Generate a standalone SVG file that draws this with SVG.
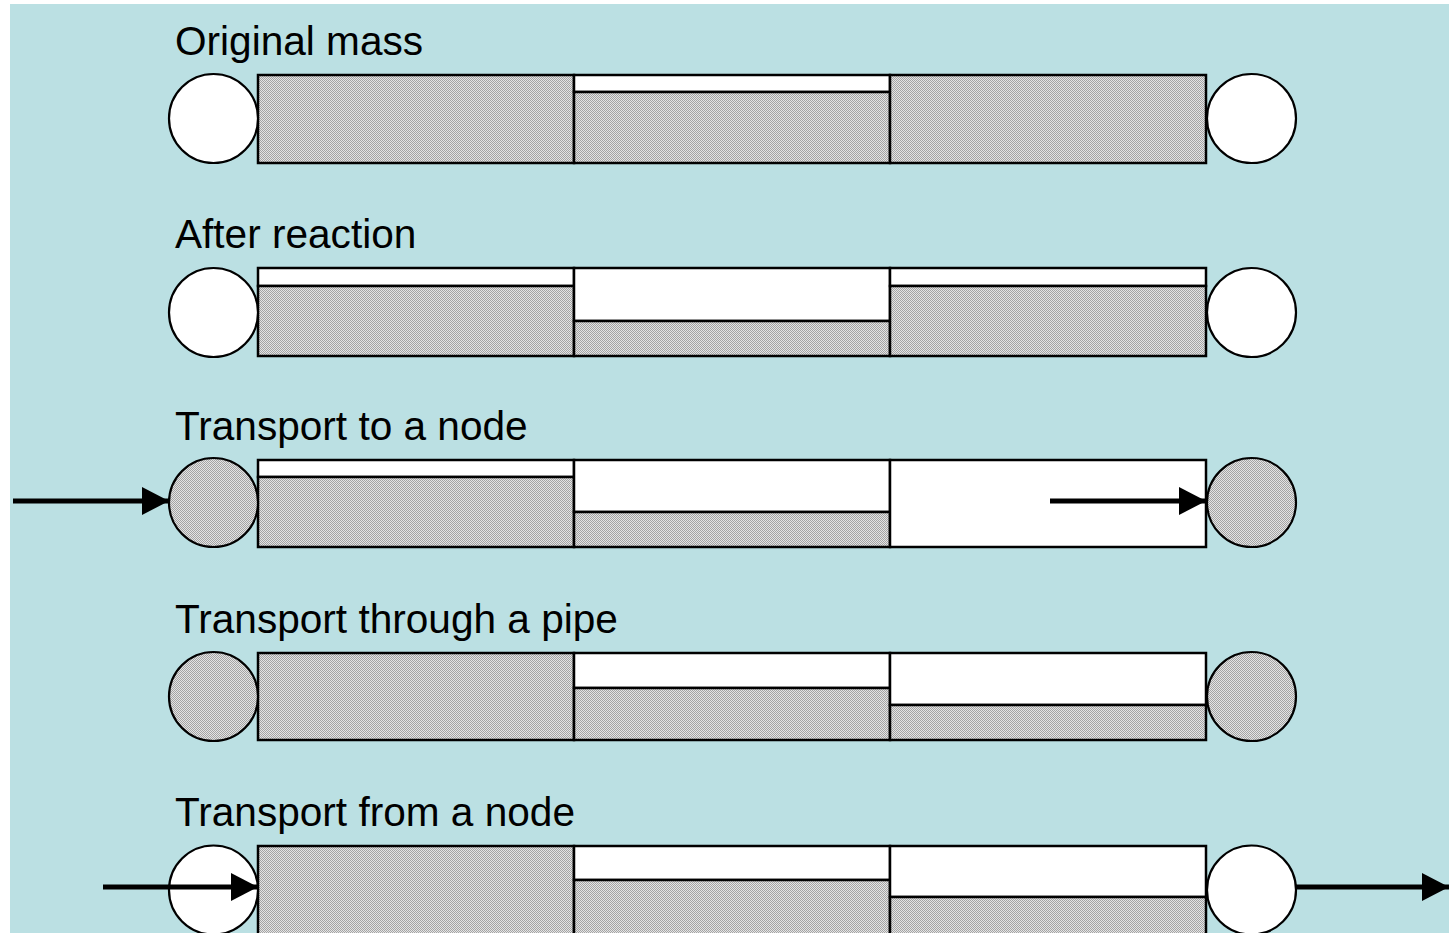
<svg xmlns="http://www.w3.org/2000/svg" width="1449" height="933" viewBox="0 0 1449 933">
<style>
.lbl{font-family:"Liberation Sans",Arial,sans-serif;font-size:40.6px;fill:#000}
.g{fill:url(#dots);stroke:#000;stroke-width:2.5}
.w{fill:#fff;stroke:#000;stroke-width:2.5}
.cw{fill:#fff;stroke:#000;stroke-width:2.2}
.cg{fill:url(#dots);stroke:#000;stroke-width:2.2}
.arr{stroke:#000;stroke-width:5;fill:none;marker-end:url(#ah)}
</style>
<defs>
<pattern id="dots" width="2" height="2" patternUnits="userSpaceOnUse">
<rect width="2" height="2" fill="#e4e4e4"/>
<rect width="1" height="1" fill="#a4a4a4"/>
<rect x="1" y="1" width="1" height="1" fill="#a4a4a4"/>
</pattern>
<marker id="ah" markerUnits="userSpaceOnUse" markerWidth="28" markerHeight="30" refX="27" refY="14" orient="auto">
<path d="M0,0 L27,14 L0,28 Z" fill="#000"/>
</marker>
</defs>
<rect x="10" y="4" width="1439" height="929" fill="#BBE0E3"/>

<g id="row1">
<text class="lbl" x="175" y="55">Original mass</text>
<rect class="g" x="258" y="75" width="316" height="88"/>
<rect class="w" x="574" y="75" width="316" height="17"/>
<rect class="g" x="574" y="92" width="316" height="71"/>
<rect class="g" x="890" y="75" width="316" height="88"/>
<circle class="cw" cx="213.5" cy="118.5" r="44.5"/>
<circle class="cw" cx="1251.5" cy="118.5" r="44.5"/>
</g>

<g id="row2">
<text class="lbl" x="175" y="248">After reaction</text>
<rect class="w" x="258" y="268" width="316" height="18"/>
<rect class="g" x="258" y="286" width="316" height="70"/>
<rect class="w" x="574" y="268" width="316" height="53"/>
<rect class="g" x="574" y="321" width="316" height="35"/>
<rect class="w" x="890" y="268" width="316" height="18"/>
<rect class="g" x="890" y="286" width="316" height="70"/>
<circle class="cw" cx="213.5" cy="312.5" r="44.5"/>
<circle class="cw" cx="1251.5" cy="312.5" r="44.5"/>
</g>

<g id="row3">
<text class="lbl" x="175" y="440">Transport to a node</text>
<rect class="w" x="258" y="460" width="316" height="17"/>
<rect class="g" x="258" y="477" width="316" height="70"/>
<rect class="w" x="574" y="460" width="316" height="52"/>
<rect class="g" x="574" y="512" width="316" height="35"/>
<rect class="w" x="890" y="460" width="316" height="87"/>
<circle class="cg" cx="213.5" cy="502.5" r="44.5"/>
<circle class="cg" cx="1251.5" cy="502.5" r="44.5"/>
</g>

<g id="row4">
<text class="lbl" x="175" y="633">Transport through a pipe</text>
<rect class="g" x="258" y="653" width="316" height="87"/>
<rect class="w" x="574" y="653" width="316" height="35"/>
<rect class="g" x="574" y="688" width="316" height="52"/>
<rect class="w" x="890" y="653" width="316" height="52"/>
<rect class="g" x="890" y="705" width="316" height="35"/>
<circle class="cg" cx="213.5" cy="696.5" r="44.5"/>
<circle class="cg" cx="1251.5" cy="696.5" r="44.5"/>
</g>

<g id="row5">
<text class="lbl" x="175" y="826">Transport from a node</text>
<rect class="g" x="258" y="846" width="316" height="100"/>
<rect class="w" x="574" y="846" width="316" height="34"/>
<rect class="g" x="574" y="880" width="316" height="66"/>
<rect class="w" x="890" y="846" width="316" height="51"/>
<rect class="g" x="890" y="897" width="316" height="49"/>
<circle class="cw" cx="213.5" cy="890" r="44.5"/>
<circle class="cw" cx="1251.5" cy="890" r="44.5"/>
</g>

<g id="connectors">
<line class="arr" x1="13" y1="501" x2="169" y2="501"/>
<line class="arr" x1="1050" y1="501" x2="1206" y2="501"/>
<line class="arr" x1="103" y1="887" x2="258" y2="887"/>
<line class="arr" x1="1296" y1="887" x2="1449" y2="887"/>
</g>
</svg>
